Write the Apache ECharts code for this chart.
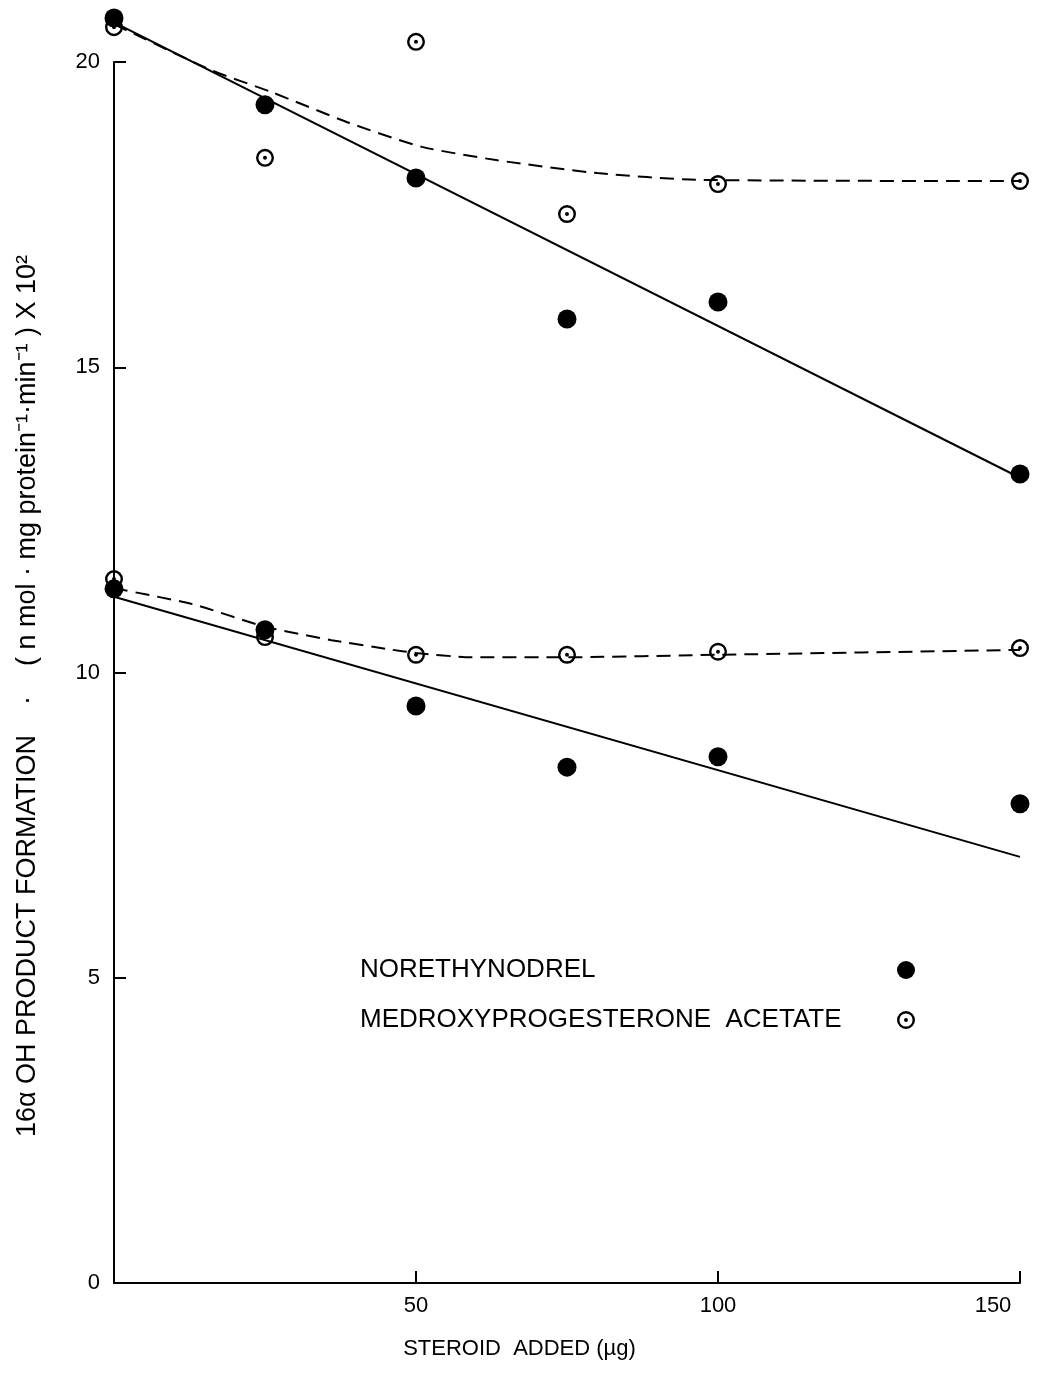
<!DOCTYPE html>
<html>
<head>
<meta charset="utf-8">
<script src="https://cdn.jsdelivr.net/npm/echarts@6/dist/echarts.min.js"></script>
<style>
  html, body { margin: 0; padding: 0; background: #fff; }
  #chart { width: 1057px; height: 1373px; }
</style>
</head>
<body>
<div id="chart"></div>
<script>
// Steroid added (µg)
const doses = [0, 25, 50, 75, 100, 150];
const xTicks = [0, 50, 100, 150];
const yTicks = [0, 5, 10, 15, 20];

// 16α-OH product formation, upper and lower experiment sets
const norethynodrelHigh = [20.72, 19.30, 18.10, 15.79, 16.07, 13.25];
const mpaHigh = [20.57, 18.43, 20.33, 17.51, 18.00, 18.05];
const norethynodrelLow = [11.37, 10.70, 9.45, 8.45, 8.62, 7.85];
const mpaLow = [11.53, 10.58, 10.29, 10.29, 10.34, 10.40];

// Fitted straight lines for norethynodrel
const fitDoses = [0, 150];
const norethynodrelHighFit = [20.65, 13.19];
const norethynodrelLowFit = [11.24, 6.98];

// Hand-drawn trend curves for medroxyprogesterone acetate
const mpaHighCurveX = [0, 16, 26, 39, 51, 63.5, 80, 96.5, 150];
const mpaHighCurveY = [20.62, 19.87, 19.51, 19.00, 18.61, 18.39, 18.18, 18.07, 18.05];
const mpaLowCurveX = [0, 13, 25, 36, 45.5, 50, 59, 75, 100, 150];
const mpaLowCurveY = [11.38, 11.12, 10.75, 10.53, 10.38, 10.32, 10.25, 10.25, 10.29, 10.37];

const NOR = 'NORETHYNODREL';
const MPA = 'MEDROXYPROGESTERONE ACETATE';
const FONT = '"Liberation Sans", Arial, sans-serif';

// open circle with a centre dot
const ringDot = 'path://M0 -10A10 10 0 1 1 0 10A10 10 0 1 1 0 -10Z' +
  'M0 -7.3A7.3 7.3 0 1 0 0 7.3A7.3 7.3 0 1 0 0 -7.3Z' +
  'M0 -2.2A2.2 2.2 0 1 1 0 2.2A2.2 2.2 0 1 1 0 -2.2Z';

const pairs = (xs, ys) => xs.map((x, i) => [x, ys[i]]);

function points(name, ys, filled) {
  return {
    name: name,
    type: 'scatter',
    data: pairs(doses, ys),
    symbol: filled ? 'circle' : ringDot,
    symbolSize: filled ? 19 : 18,
    itemStyle: { color: '#000', opacity: 1 },
    clip: false,
    z: 5
  };
}

function fit(name, xs, ys, dashed) {
  return {
    name: name,
    type: 'line',
    data: pairs(xs, ys),
    showSymbol: false,
    symbol: 'none',
    smooth: dashed ? 0.2 : false,
    clip: false,
    lineStyle: { color: '#000', width: 2, type: dashed ? [14, 8] : 'solid' },
    z: 3
  };
}

const tickText = { color: '#000', fontFamily: FONT, fontSize: 22 };

const chart = echarts.init(document.getElementById('chart'));
chart.setOption({
  animation: false,
  backgroundColor: '#fff',
  grid: { left: 114, right: 37, top: 62, bottom: 90, containLabel: false },
  xAxis: {
    type: 'value', min: 0, max: 150, interval: 50,
    axisLine: { lineStyle: { color: '#000', width: 2 } },
    axisTick: { inside: true, length: 12, lineStyle: { color: '#000', width: 2 } },
    axisLabel: Object.assign({}, tickText, {
      margin: 12,
      formatter: v => {
        if (!xTicks.includes(v) || v === 0) return '';
        return v === 150 ? '{edge|150}' : String(v);
      },
      rich: { edge: Object.assign({}, tickText, { padding: [0, 54, 0, 0] }) }
    }),
    splitLine: { show: false },
    name: 'STEROID  ADDED (µg)',
    nameLocation: 'middle',
    nameGap: 55,
    nameTextStyle: { color: '#000', fontFamily: FONT, fontSize: 22, padding: [0, 95, 0, 0] }
  },
  yAxis: {
    type: 'value', min: 0, max: 20, interval: 5,
    axisLine: { show: true, lineStyle: { color: '#000', width: 2 } },
    axisTick: { show: true, inside: true, length: 12, lineStyle: { color: '#000', width: 2 } },
    axisLabel: Object.assign({}, tickText, {
      margin: 14,
      formatter: v => (yTicks.includes(v) ? String(v) : '')
    }),
    splitLine: { show: false }
  },
  legend: {
    data: [NOR, MPA],
    orient: 'vertical',
    align: 'right',
    left: 355,
    top: 952,
    itemGap: 24,
    itemWidth: 18,
    itemHeight: 18,
    formatter: name => '{t|' + name.replace(' ', '  ') + '}',
    textStyle: {
      color: '#000', fontFamily: FONT, fontSize: 26,
      rich: { t: { width: 532, align: 'left', color: '#000', fontFamily: FONT, fontSize: 26, lineHeight: 25 } }
    }
  },
  graphic: [{
    type: 'text',
    x: 28,
    y: 696,
    rotation: Math.PI / 2,
    style: {
      text: '16α OH PRODUCT FORMATION    ·    ( n mol · mg protein⁻¹·min⁻¹ ) X 10²',
      fill: '#000',
      font: '27px ' + FONT,
      align: 'center',
      verticalAlign: 'middle'
    }
  }],
  series: [
    fit('nor-high-fit', fitDoses, norethynodrelHighFit, false),
    fit('nor-low-fit', fitDoses, norethynodrelLowFit, false),
    fit('mpa-high-curve', mpaHighCurveX, mpaHighCurveY, true),
    fit('mpa-low-curve', mpaLowCurveX, mpaLowCurveY, true),
    points(NOR, norethynodrelHigh, true),
    points(NOR, norethynodrelLow, true),
    points(MPA, mpaHigh, false),
    points(MPA, mpaLow, false)
  ]
});
</script>
</body>
</html>
